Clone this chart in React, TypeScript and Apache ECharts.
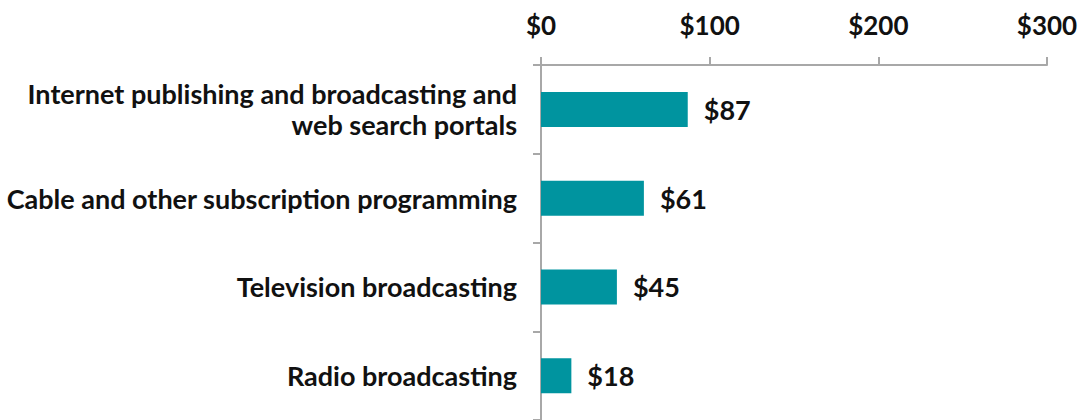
import React, { useEffect, useRef } from "react";
import * as echarts from "echarts";

const categories = [
  "Internet publishing and broadcasting and\nweb search portals",
  "Cable and other subscription programming",
  "Television broadcasting",
  "Radio broadcasting",
];
const values = [87, 61, 45, 18];
const xTicks = [0, 100, 200, 300];

export default function App() {
  const ref = useRef<HTMLDivElement>(null);
  useEffect(() => {
    if (!ref.current) return;
    const chart = echarts.init(ref.current, null, { renderer: "svg" });
    const font = { fontFamily: "Lato", fontWeight: "bold" as const, fontSize: 27, color: "#111111" };
    chart.setOption({
      animation: false,
      grid: { left: 541, right: 34, top: 65, bottom: -5, containLabel: false },
      xAxis: {
        type: "value",
        position: "top",
        min: xTicks[0],
        max: xTicks[xTicks.length - 1],
        interval: 100,
        axisLine: { show: true, lineStyle: { color: "#a8a8a8", width: 2 } },
        axisTick: { show: true, length: 8, lineStyle: { color: "#a8a8a8", width: 2 } },
        splitLine: { show: false },
        axisLabel: { ...font, fontSize: 26, margin: 27, formatter: (v: number) => "$" + v },
      },
      yAxis: {
        type: "category",
        inverse: true,
        data: categories,
        axisLine: { show: true, lineStyle: { color: "#a8a8a8", width: 2 } },
        axisTick: { show: true, length: 8, lineStyle: { color: "#a8a8a8", width: 2 } },
        axisLabel: { ...font, margin: 24, align: "right", lineHeight: 31, padding: [5, 0, 0, 0] },
      },
      series: [
        {
          type: "bar",
          data: values,
          barWidth: 35,
          itemStyle: { color: "#00949F" },
          label: {
            show: true,
            position: "right",
            distance: 16,
            ...font,
            padding: [5, 0, 0, 0],
            formatter: (p: any) => "$" + p.value,
          },
        },
      ],
    });
    return () => chart.dispose();
  }, []);
  return (
    <div
      ref={ref}
      style={{ position: "absolute", left: 0, top: 0, width: 1081, height: 420 }}
    />
  );
}
